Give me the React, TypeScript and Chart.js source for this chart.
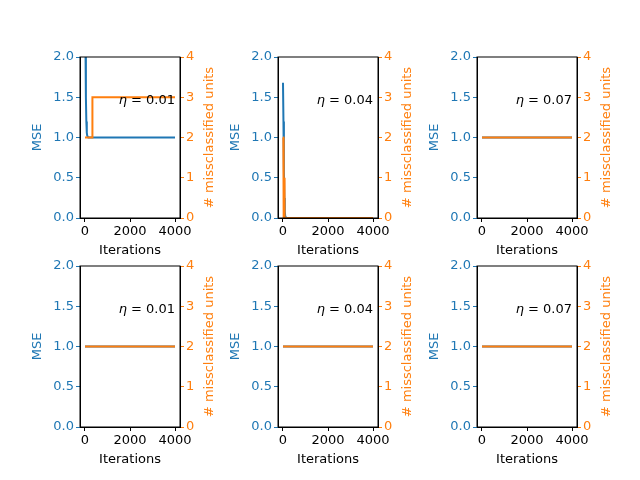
import { Chart, registerables } from "chart.js";
import React, { useEffect, useRef } from "react";

Chart.register(...registerables);

const BLUE = "#1f77b4";
const ORANGE = "#ff7f0e";

// iterations and values, one set per panel
const etas = ["0.01", "0.04", "0.07", "0.01", "0.04", "0.07"];

const mseIter1 = [0, 20, 40, 60, 80, 100, 150, 4000];
const mse1 = [3.5, 2.2, 1.5, 1.2, 1.06, 1.02, 1.0, 1.0];
const misIter1 = [0, 330, 330, 4000];
const mis1 = [2, 2, 3, 3];

const mseIter2 = [0, 20, 40, 60, 80, 100, 150, 4000];
const mse2 = [1.68, 1.2, 0.6, 0.25, 0.08, 0.02, 0.0, 0.0];
const misIter2 = [0, 15, 30, 45, 60, 80, 4000];
const mis2 = [2, 2, 0, 1, 0, 0, 0];

const flatIter = [0, 4000];
const mseFlat = [1.0, 1.0];
const misFlat = [2, 2];

const panels = [
  { mx: mseIter1, my: mse1, ox: misIter1, oy: mis1 },
  { mx: mseIter2, my: mse2, ox: misIter2, oy: mis2 },
  { mx: flatIter, my: mseFlat, ox: flatIter, oy: misFlat },
  { mx: flatIter, my: mseFlat, ox: flatIter, oy: misFlat },
  { mx: flatIter, my: mseFlat, ox: flatIter, oy: misFlat },
  { mx: flatIter, my: mseFlat, ox: flatIter, oy: misFlat },
];

const lefts = [80, 278, 477];
const tops = [57, 266];
const BOX_W = 100;
const BOX_H = 161;
const LEFT_W = 50;
const RIGHT_W = 50;
const BOTTOM_H = 40;
const FONT = "DejaVu Sans";

const boxPlugin = {
  id: "box",
  afterDraw(chart: Chart) {
    const { ctx, chartArea: a } = chart;
    ctx.save();
    ctx.strokeStyle = "#000";
    ctx.lineWidth = 1;
    ctx.strokeRect(a.left, a.top, a.right - a.left, a.bottom - a.top);
    // right axis title, reading bottom to top
    ctx.translate(a.right + 30, (a.top + a.bottom) / 2);
    ctx.rotate(-Math.PI / 2);
    ctx.fillStyle = ORANGE;
    ctx.font = `13px ${FONT}`;
    ctx.textAlign = "center";
    ctx.textBaseline = "middle";
    ctx.fillText("# missclassified units", 0, 0);
    ctx.restore();
  },
};

const Panel: React.FC<{ idx: number }> = ({ idx }) => {
  const ref = useRef<HTMLCanvasElement | null>(null);
  const left = lefts[idx % 3];
  const top = tops[Math.floor(idx / 3)];
  const p = panels[idx];

  useEffect(() => {
    if (!ref.current) return;
    const fixW = (w: number) => (s: any) => { s.width = w; };
    const chart = new Chart(ref.current, {
      type: "line",
      data: {
        datasets: [
          {
            data: p.mx.map((x, i) => ({ x, y: p.my[i] })),
            borderColor: BLUE,
            borderWidth: 2,
            pointRadius: 0,
            yAxisID: "y",
            order: 1,
          },
          {
            data: p.ox.map((x, i) => ({ x, y: p.oy[i] })),
            borderColor: ORANGE,
            borderWidth: 2,
            pointRadius: 0,
            yAxisID: "y2",
            order: 0,
          },
        ],
      },
      plugins: [boxPlugin],
      options: {
        animation: false,
        responsive: false,
        layout: {
          padding: {
            left: left - LEFT_W,
            right: 640 - left - BOX_W - RIGHT_W,
            top: top,
            bottom: 480 - top - BOX_H - BOTTOM_H,
          },
        },
        plugins: { legend: { display: false }, tooltip: { enabled: false } },
        scales: {
          x: {
            type: "linear",
            min: -222,
            max: 4222,
            afterFit: (s: any) => { s.height = BOTTOM_H; },
            afterBuildTicks: (s: any) => { s.ticks = [0, 2000, 4000].map((v) => ({ value: v })); },
            grid: { drawOnChartArea: false, tickLength: 4, color: "#000" },
            border: { color: "#000" },
            ticks: { color: "#000", font: { family: FONT, size: 13 }, maxRotation: 0, padding: 2, callback: (v: any) => String(v) },
            title: { display: true, text: "Iterations", color: "#000", font: { family: FONT, size: 13 }, padding: 0 },
          },
          y: {
            position: "left",
            min: 0,
            max: 2,
            afterFit: fixW(LEFT_W),
            ticks: { stepSize: 0.5, color: BLUE, font: { family: FONT, size: 13 }, padding: 2, callback: (v: any) => Number(v).toFixed(1) },
            grid: { drawOnChartArea: false, tickLength: 4, color: BLUE },
            border: { color: "#000" },
            title: { display: true, text: "MSE", color: BLUE, font: { family: FONT, size: 13 }, padding: 0 },
          },
          y2: {
            position: "right",
            min: 0,
            max: 4,
            afterFit: fixW(RIGHT_W),
            ticks: { stepSize: 1, color: ORANGE, font: { family: FONT, size: 13 }, padding: 2 },
            grid: { drawOnChartArea: false, tickLength: 4, color: ORANGE },
            border: { color: "#000" },
          },
        },
      },
    });
    return () => chart.destroy();
  }, [idx]);

  return (
    <>
      <canvas ref={ref} width={640} height={480} style={{ position: "absolute", left: 0, top: 0 }} />
      <div
        style={{
          position: "absolute",
          left: left + 38,
          top: top + 35,
          width: 57,
          textAlign: "right",
          font: `13px ${FONT}`,
          color: "#000",
          whiteSpace: "nowrap",
        }}
      >
        <i>η</i> = {etas[idx]}
      </div>
    </>
  );
};

export default function App() {
  return (
    <div style={{ position: "fixed", left: 0, top: 0, width: 640, height: 480, background: "#fff" }}>
      {panels.map((_, i) => (
        <Panel key={i} idx={i} />
      ))}
    </div>
  );
}
